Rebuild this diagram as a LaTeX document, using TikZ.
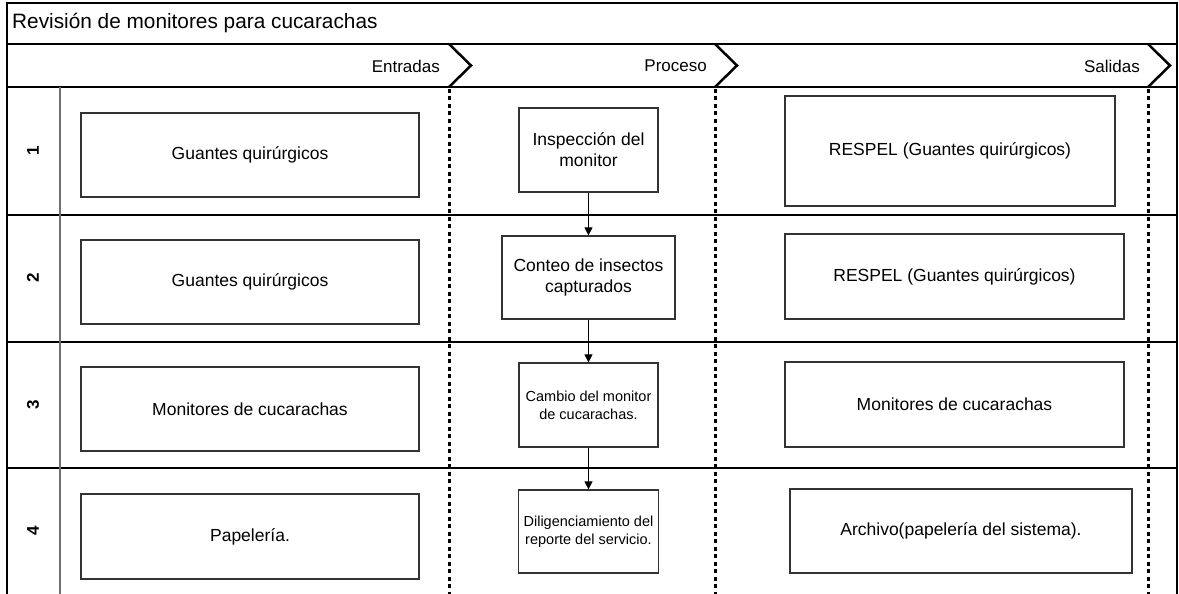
\documentclass[tikz,border=0pt]{standalone}
\usepackage{fontspec}
\setmainfont{Liberation Sans}
\usepackage{tikz}
\usetikzlibrary{arrows.meta}
\definecolor{boxgray}{HTML}{333333}
\definecolor{lanegray}{HTML}{707070}
\tikzset{
  >={Triangle[length=8pt,width=8pt]},
  frame/.style={draw=black, line width=1.4pt},
  divider/.style={draw=lanegray, line width=1.4pt},
  phase/.style={draw=black, line width=2.5pt},
  lane/.style={draw=black, line width=3pt, dash pattern=on 4pt off 3.5pt},
  flow/.style={draw=black, -{Triangle[length=8pt,width=8pt]}, line width=1pt},
  box/.style={
    draw=boxgray,
    line width=1.2pt,
    align=center,
    inner sep=0pt,
    font=\fontsize{17.5}{21}\selectfont
  },
  smallbox/.style={box, font=\fontsize{14.5}{18}\selectfont},
  num/.style={font=\bfseries\fontsize{17}{20}\selectfont, rotate=90, inner sep=0pt},
  head/.style={anchor=east, font=\fontsize{17}{20}\selectfont, inner sep=0pt}
}

\begin{document}
\begin{tikzpicture}[x=1pt,y=-1pt]
  \path[use as bounding box] (0,0) rectangle (1179,594);

  \draw[frame] (7,594) -- (7,3) -- (1177,3) -- (1177,594);
  \draw[frame] (7,44) -- (1177,44);
  \draw[frame] (7,87) -- (1177,87);
  \draw[frame] (7,215) -- (1177,215);
  \draw[frame] (7,342) -- (1177,342);
  \draw[frame] (7,468) -- (1177,468);
  \draw[divider] (60,87) -- (60,594);

  \node[anchor=west, font=\fontsize{20.8}{25}\selectfont, inner sep=0pt] (title) at (12,23)
    {Revisión de monitores para cucarachas};

  \node[head] (entradas) at (440,66) {Entradas};
  \node[head] (proceso) at (707,66) {Proceso};
  \node[head] (salidas) at (1140,66) {Salidas};

  \draw[phase] (449,44) -- (471,65.5) -- (449,87);
  \draw[phase] (715,44) -- (737,65.5) -- (715,87);
  \draw[phase] (1148,44) -- (1170,65.5) -- (1148,87);
  \draw[lane] (449,89) -- (449,594);
  \draw[lane] (715,89) -- (715,594);
  \draw[lane] (1148,89) -- (1148,594);

  \node[num] (n1) at (33,151) {1};
  \node[num] (n2) at (33,278) {2};
  \node[num] (n3) at (33,405) {3};
  \node[num] (n4) at (33,531) {4};

  \node[box, minimum width=338pt, minimum height=84pt] (in1) at (250,155)
    {Guantes quirúrgicos};
  \node[box, minimum width=338pt, minimum height=84pt] (in2) at (250,282)
    {Guantes quirúrgicos};
  \node[box, minimum width=338pt, minimum height=84pt] (in3) at (250,409)
    {Monitores de cucarachas};
  \node[box, minimum width=338pt, minimum height=85pt] (in4) at (250,536.5)
    {Papelería.};

  \node[box, minimum width=139pt, minimum height=84pt] (p1) at (588.5,150)
    {Inspección del\\monitor};
  \node[box, minimum width=173pt, minimum height=83pt] (p2) at (588.5,277.5)
    {Conteo de insectos\\capturados};
  \node[smallbox, minimum width=139pt, minimum height=84pt] (p3) at (588.5,405)
    {Cambio del monitor\\de cucarachas.};
  \node[smallbox, minimum width=140pt, minimum height=83pt] (p4) at (588.5,531.5)
    {Diligenciamiento del\\reporte del servicio.};

  \node[box, minimum width=330pt, minimum height=110pt] (out1) at (950,151)
    {RESPEL (Guantes quirúrgicos)};
  \node[box, minimum width=339pt, minimum height=85pt] (out2) at (954.5,276.5)
    {RESPEL (Guantes quirúrgicos)};
  \node[box, minimum width=339pt, minimum height=85pt] (out3) at (954.5,404.5)
    {Monitores de cucarachas};
  \node[box, minimum width=342pt, minimum height=84pt] (out4) at (961,531)
    {Archivo(papelería del sistema).};

  \draw[flow] (p1) -- (p2);
  \draw[flow] (p2) -- (p3);
  \draw[flow] (p3) -- (p4);
\end{tikzpicture}
\end{document}
